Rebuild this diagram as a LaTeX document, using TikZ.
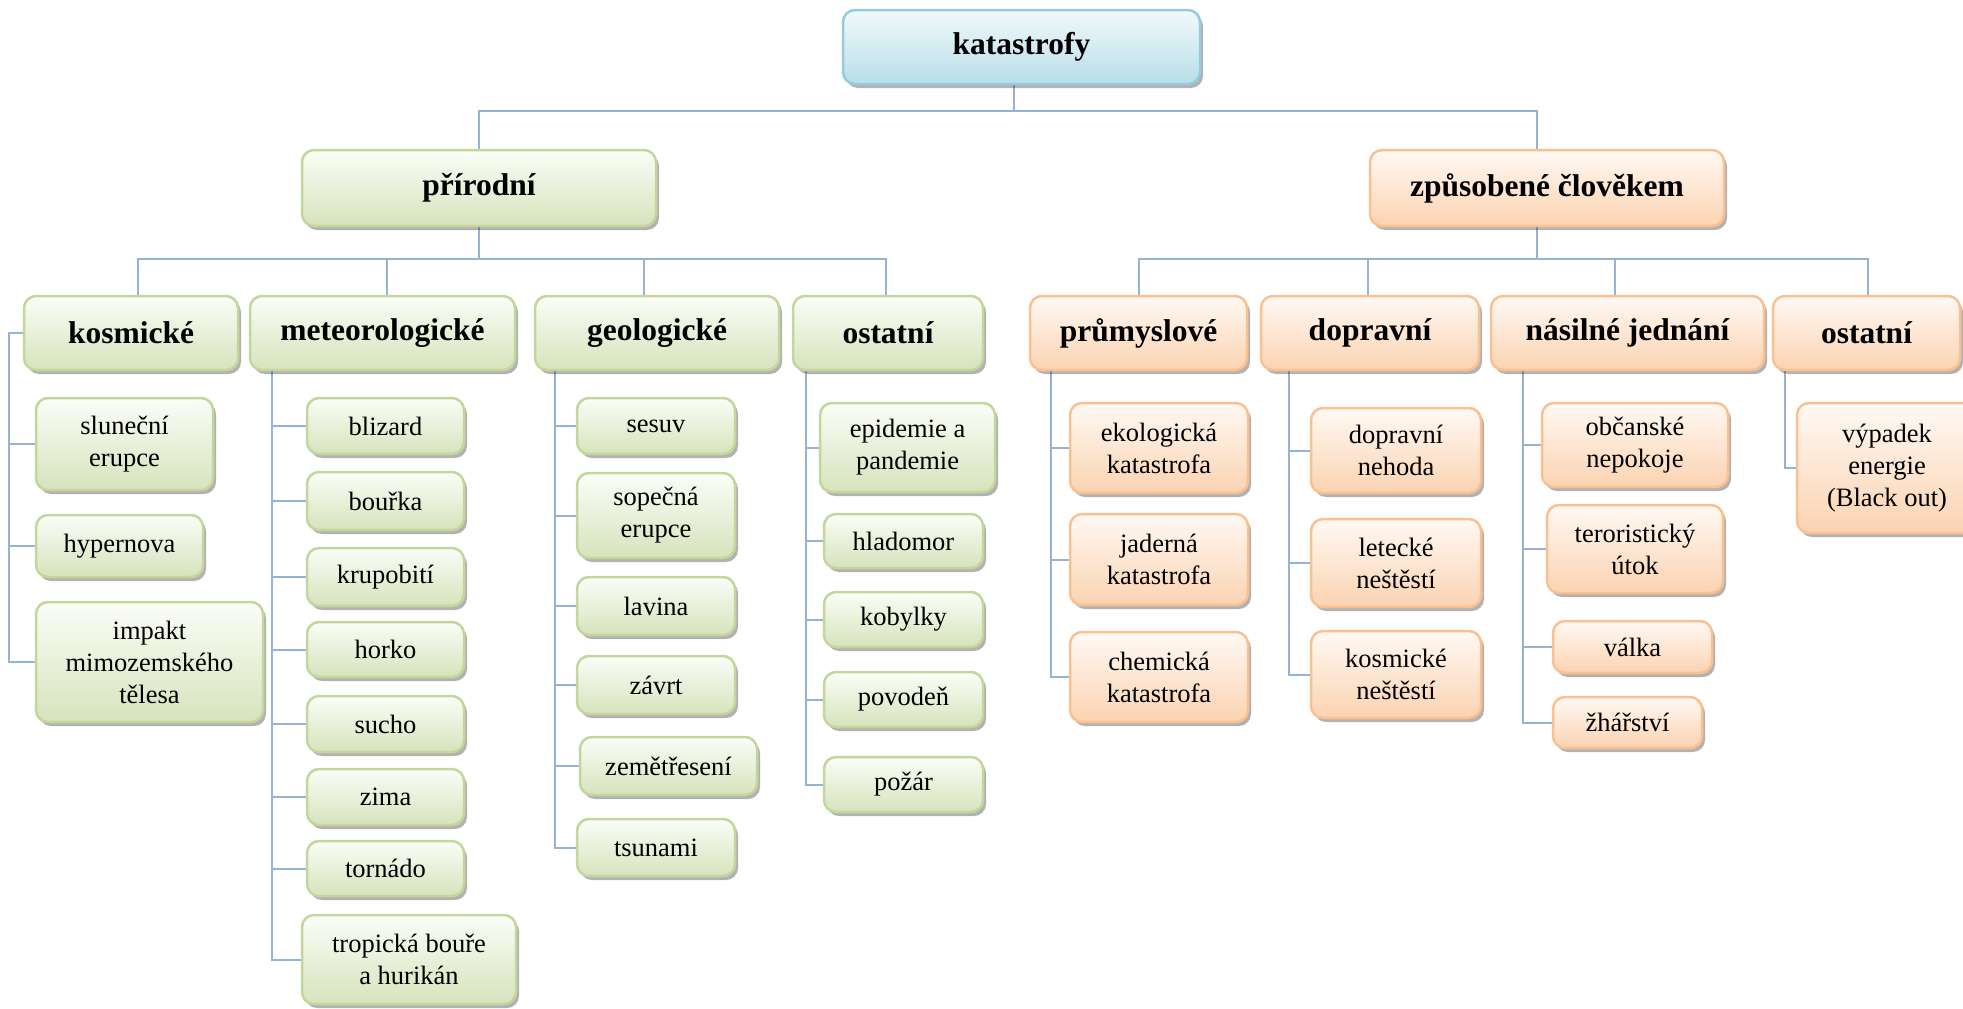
\documentclass[tikz,border=0pt]{standalone}
\usepackage{fontspec}
\setmainfont{Liberation Serif}
\usetikzlibrary{shadows,backgrounds}
\definecolor{gborder}{HTML}{C3D69B}
\definecolor{gtop}{HTML}{FBFDF7}
\definecolor{gbot}{HTML}{D6E3BC}
\definecolor{oborder}{HTML}{FAC090}
\definecolor{otop}{HTML}{FFF9F4}
\definecolor{obot}{HTML}{FBD3B1}
\definecolor{bborder}{HTML}{93CDDD}
\definecolor{btop}{HTML}{F2F9FB}
\definecolor{bbot}{HTML}{B7DEE8}
\definecolor{connc}{HTML}{95B3D7}
\newcommand\bx[7]{\node[#2, minimum width={#5-#3}, minimum height={#6-#4}] (#1) at ({(#3+#5)/2},{(#4+#6)/2}) {#7};}
\begin{document}
\begin{tikzpicture}[x=1pt,y=-1pt,
  box/.style={rounded corners=12pt, line width=2.5pt, inner sep=0pt, align=center,
    drop shadow={shadow xshift=3pt, shadow yshift=-4pt, fill=black, opacity=0.3}},
  gbox/.style={box, draw=gborder, top color=gtop, bottom color=gbot},
  obox/.style={box, draw=oborder, top color=otop, bottom color=obot},
  bbox/.style={box, draw=bborder, top color=btop, bottom color=bbot},
  lvl/.style={font=\fontsize{31.5}{36}\selectfont\bfseries},
  leaf/.style={font=\fontsize{26.5}{32}\selectfont},
  gl/.style={gbox, lvl}, ol/.style={obox, lvl},
  gf/.style={gbox, leaf}, of/.style={obox, leaf},
  conn/.style={draw=connc, line width=2pt}]
\useasboundingbox (0,0) rectangle (1963,1009);

% root and level 1
\bx{root}{bbox,lvl}{843}{10}{1200}{84}{katastrofy}
\bx{prir}{gl}{302}{150}{656}{226}{přírodní}
\bx{zpus}{ol}{1370}{150}{1724}{226}{způsobené člověkem}

% level 2
\bx{kos}{gl}{24}{296}{238}{370}{kosmické}
\bx{met}{gl}{250}{296}{515}{370}{meteorologické}
\bx{geo}{gl}{535}{296}{779}{370}{geologické}
\bx{ost}{gl}{793}{296}{983}{370}{ostatní}
\bx{prum}{ol}{1030}{296}{1247}{370}{průmyslové}
\bx{dop}{ol}{1261}{296}{1479}{370}{dopravní}
\bx{nas}{ol}{1491}{296}{1764}{370}{násilné jednání}
\bx{ostb}{ol}{1773}{296}{1960}{370}{ostatní}

% kosmicke leaves
\bx{slun}{gf}{36}{398}{213}{490}{sluneční\\erupce}
\bx{hyp}{gf}{36}{515}{203}{577}{hypernova}
\bx{imp}{gf}{36}{602}{263}{722}{impakt\\mimozemského\\tělesa}

% meteorologicke leaves
\bx{bliz}{gf}{307}{398}{464}{454}{blizard}
\bx{bour}{gf}{307}{472}{464}{530}{bouřka}
\bx{krup}{gf}{307}{548}{464}{606}{krupobití}
\bx{hork}{gf}{307}{622}{464}{677}{horko}
\bx{such}{gf}{307}{696}{464}{752}{sucho}
\bx{zima}{gf}{307}{769}{464}{825}{zima}
\bx{torn}{gf}{307}{841}{464}{896}{tornádo}
\bx{trop}{gf}{302}{915}{516}{1004}{tropická bouře\\a hurikán}

% geologicke leaves
\bx{sesu}{gf}{577}{398}{735}{454}{sesuv}
\bx{sope}{gf}{577}{473}{735}{558}{sopečná\\erupce}
\bx{lavi}{gf}{577}{577}{735}{635}{lavina}
\bx{zavr}{gf}{577}{656}{735}{714}{závrt}
\bx{zeme}{gf}{580}{737}{757}{795}{zemětřesení}
\bx{tsun}{gf}{577}{819}{735}{876}{tsunami}

% ostatni (natural) leaves
\bx{epid}{gf}{820}{403}{995}{492}{epidemie a\\pandemie}
\bx{hlad}{gf}{824}{514}{983}{568}{hladomor}
\bx{koby}{gf}{824}{592}{983}{647}{kobylky}
\bx{povo}{gf}{824}{672}{983}{727}{povodeň}
\bx{poza}{gf}{824}{757}{983}{812}{požár}

% prumyslove leaves
\bx{ekol}{of}{1070}{403}{1248}{493}{ekologická\\katastrofa}
\bx{jade}{of}{1070}{514}{1248}{605}{jaderná\\katastrofa}
\bx{chem}{of}{1070}{632}{1248}{722}{chemická\\katastrofa}

% dopravni leaves
\bx{neho}{of}{1311}{408}{1481}{493}{dopravní\\nehoda}
\bx{lete}{of}{1311}{519}{1481}{607}{letecké\\neštěstí}
\bx{kosn}{of}{1311}{631}{1481}{718}{kosmické\\neštěstí}

% nasilne jednani leaves
\bx{obca}{of}{1542}{403}{1728}{487}{občanské\\nepokoje}
\bx{tero}{of}{1547}{505}{1723}{593}{teroristický\\útok}
\bx{valk}{of}{1553}{621}{1712}{673}{válka}
\bx{zhar}{of}{1553}{697}{1702}{748}{žhářství}

% ostatni (man-made) leaf
\bx{vypa}{of}{1797}{403}{1977}{533}{výpadek\\energie\\(Black out)}

\begin{pgfonlayer}{background}
% root to level 1
\draw[conn] (prir.north) -- ++(0,-38) -| ([xshift=-8pt]root.south);
\draw[conn] ([xshift=-10pt]zpus.north) -- ++(0,-38) -| ([xshift=-8pt]root.south);
% level 1 to level 2
\draw[conn] ([xshift=7pt]kos.north) -- ++(0,-36) -| (prir.south);
\draw[conn] ([xshift=4pt]met.north) -- ++(0,-36) -| (prir.south);
\draw[conn] ([xshift=-13pt]geo.north) -- ++(0,-36) -| (prir.south);
\draw[conn] ([xshift=-2pt]ost.north) -- ++(0,-36) -| (prir.south);
\draw[conn] (prum.north) -- ++(0,-36) -| ([xshift=-10pt]zpus.south);
\draw[conn] ([xshift=-2pt]dop.north) -- ++(0,-36) -| ([xshift=-10pt]zpus.south);
\draw[conn] ([xshift=-13pt]nas.north) -- ++(0,-36) -| ([xshift=-10pt]zpus.south);
\draw[conn] ([xshift=1pt]ostb.north) -- ++(0,-36) -| ([xshift=-10pt]zpus.south);
% kosmicke
\foreach \n in {slun,hyp,imp} \draw[conn] (kos.west) -- ++(-14,0) |- (\n.west);
% meteorologicke
\foreach \n in {bliz,bour,krup,hork,such,zima,torn,trop} \draw[conn] ([xshift=23pt]met.south west) |- (\n.west);
% geologicke
\foreach \n in {sesu,sope,lavi,zavr,zeme,tsun} \draw[conn] ([xshift=21pt]geo.south west) |- (\n.west);
% ostatni
\foreach \n in {epid,hlad,koby,povo,poza} \draw[conn] ([xshift=14pt]ost.south west) |- (\n.west);
% prumyslove
\foreach \n in {ekol,jade,chem} \draw[conn] ([xshift=22pt]prum.south west) |- (\n.west);
% dopravni
\foreach \n in {neho,lete,kosn} \draw[conn] ([xshift=29pt]dop.south west) |- (\n.west);
% nasilne
\foreach \n in {obca,tero,valk,zhar} \draw[conn] ([xshift=33pt]nas.south west) |- (\n.west);
% ostatni b
\draw[conn] ([xshift=13pt]ostb.south west) |- (vypa.west);
\end{pgfonlayer}
\end{tikzpicture}
\end{document}
